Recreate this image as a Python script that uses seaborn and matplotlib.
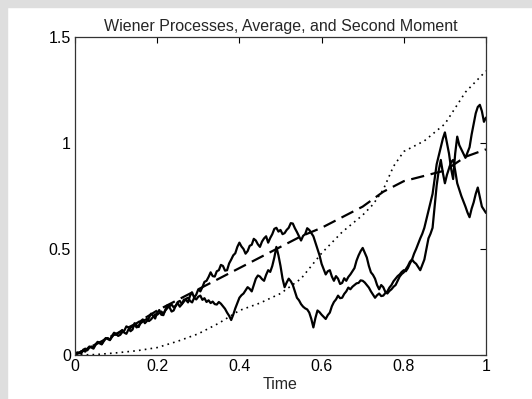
import numpy as np
import pandas as pd
import matplotlib
matplotlib.use("Agg")
import matplotlib.pyplot as plt
from matplotlib.patches import Rectangle
import seaborn as sns

# time grid for the two sample paths (step 0.005)
t_path = np.round(np.arange(0, 1.0001, 0.005), 3)

path_a = [0.000, 0.010, 0.012, 0.006, 0.025, 0.030, 0.022, 0.035, 0.040, 0.038,
          0.050, 0.062, 0.058, 0.052, 0.070, 0.080, 0.075, 0.070, 0.090, 0.105,
          0.100, 0.090, 0.095, 0.108, 0.115, 0.135, 0.130, 0.112, 0.120, 0.150,
          0.140, 0.132, 0.160, 0.168, 0.150, 0.160, 0.175, 0.195, 0.185, 0.172,
          0.200, 0.212, 0.190, 0.188, 0.215, 0.235, 0.225, 0.205, 0.210, 0.232,
          0.245, 0.228, 0.240, 0.262, 0.260, 0.248, 0.280, 0.295, 0.270, 0.285,
          0.310, 0.300, 0.320, 0.345, 0.350, 0.368, 0.390, 0.372, 0.370, 0.395,
          0.400, 0.425, 0.420, 0.398, 0.400, 0.432, 0.450, 0.470, 0.480, 0.510,
          0.530, 0.512, 0.500, 0.478, 0.490, 0.515, 0.520, 0.548, 0.540, 0.522,
          0.510, 0.535, 0.550, 0.560, 0.530, 0.552, 0.570, 0.595, 0.600, 0.582,
          0.590, 0.570, 0.575, 0.590, 0.600, 0.622, 0.620, 0.598, 0.580, 0.560,
          0.540, 0.562, 0.570, 0.598, 0.590, 0.575, 0.560, 0.530, 0.500, 0.470,
          0.430, 0.405, 0.380, 0.395, 0.400, 0.370, 0.350, 0.372, 0.360, 0.335,
          0.340, 0.362, 0.350, 0.368, 0.380, 0.395, 0.410, 0.445, 0.470, 0.490,
          0.505, 0.482, 0.460, 0.420, 0.390, 0.378, 0.360, 0.330, 0.310, 0.330,
          0.320, 0.298, 0.290, 0.302, 0.310, 0.322, 0.330, 0.350, 0.370, 0.382,
          0.390, 0.405, 0.420, 0.440, 0.450, 0.478, 0.500, 0.525, 0.550, 0.572,
          0.600, 0.640, 0.680, 0.720, 0.760, 0.830, 0.900, 0.940, 0.980, 1.020,
          1.050, 1.000, 0.950, 0.880, 0.830, 0.950, 1.030, 0.990, 0.970, 0.950,
          0.930, 0.955, 0.980, 1.040, 1.090, 1.140, 1.170, 1.180, 1.150, 1.100,
          1.120]

path_b = [0.000, 0.012, 0.008, 0.018, 0.020, 0.016, 0.030, 0.040, 0.035, 0.030,
          0.048, 0.058, 0.055, 0.050, 0.065, 0.078, 0.080, 0.072, 0.085, 0.098,
          0.095, 0.102, 0.110, 0.118, 0.105, 0.100, 0.120, 0.128, 0.135, 0.142,
          0.130, 0.138, 0.150, 0.158, 0.165, 0.170, 0.160, 0.168, 0.180, 0.192,
          0.190, 0.198, 0.205, 0.195, 0.210, 0.222, 0.230, 0.238, 0.225, 0.232,
          0.250, 0.255, 0.240, 0.252, 0.265, 0.270, 0.255, 0.248, 0.270, 0.262,
          0.275, 0.280, 0.260, 0.268, 0.250, 0.258, 0.245, 0.252, 0.240, 0.238,
          0.250, 0.242, 0.230, 0.218, 0.200, 0.185, 0.165, 0.190, 0.220, 0.245,
          0.270, 0.282, 0.290, 0.305, 0.320, 0.312, 0.300, 0.330, 0.360, 0.375,
          0.370, 0.358, 0.350, 0.378, 0.400, 0.392, 0.420, 0.460, 0.510, 0.470,
          0.420, 0.360, 0.320, 0.342, 0.360, 0.348, 0.330, 0.300, 0.270, 0.258,
          0.240, 0.228, 0.220, 0.215, 0.200, 0.170, 0.130, 0.175, 0.210, 0.202,
          0.190, 0.180, 0.170, 0.188, 0.200, 0.230, 0.250, 0.262, 0.280, 0.268,
          0.270, 0.288, 0.300, 0.318, 0.310, 0.322, 0.330, 0.338, 0.340, 0.352,
          0.350, 0.342, 0.330, 0.318, 0.300, 0.285, 0.270, 0.282, 0.290, 0.278,
          0.280, 0.292, 0.300, 0.318, 0.330, 0.348, 0.360, 0.372, 0.380, 0.392,
          0.400, 0.395, 0.410, 0.432, 0.450, 0.438, 0.430, 0.415, 0.400, 0.425,
          0.450, 0.500, 0.550, 0.572, 0.600, 0.700, 0.800, 0.870, 0.920, 0.860,
          0.810, 0.850, 0.880, 0.910, 0.920, 0.870, 0.810, 0.780, 0.750, 0.725,
          0.700, 0.672, 0.650, 0.690, 0.720, 0.760, 0.790, 0.745, 0.700, 0.685,
          0.670]

# average over paths (dashed)
t_avg = [0.0, 0.05, 0.10, 0.15, 0.20, 0.25, 0.30, 0.35, 0.40, 0.45, 0.50,
         0.55, 0.60, 0.65, 0.70, 0.75, 0.80, 0.85, 0.90, 0.95, 1.0]
avg = [0.0, 0.05, 0.10, 0.15, 0.21, 0.26, 0.31, 0.36, 0.41, 0.46, 0.51,
       0.56, 0.60, 0.65, 0.70, 0.77, 0.82, 0.845, 0.87, 0.935, 0.97]

# second moment (dotted)
t_mom = [0.0, 0.05, 0.10, 0.15, 0.20, 0.25, 0.30, 0.35, 0.40, 0.45, 0.50,
         0.55, 0.60, 0.65, 0.70, 0.725, 0.75, 0.775, 0.80, 0.85, 0.90, 0.95, 1.0]
moment = [0.0, 0.002, 0.01, 0.02, 0.035, 0.065, 0.10, 0.15, 0.21, 0.245, 0.29,
          0.36, 0.48, 0.58, 0.66, 0.71, 0.78, 0.89, 0.96, 1.01, 1.09, 1.24, 1.34]

sns.set_style("white")
plt.rcParams['font.family'] = ['Liberation Sans', 'DejaVu Sans']

fig = plt.figure(figsize=(5.32, 3.99), dpi=100)
fig.patch.set_facecolor('white')
# grey window border on top and left
fig.patches.append(Rectangle((0, 1 - 7 / 399), 1, 7 / 399, transform=fig.transFigure,
                             color='#dedede', zorder=0))
fig.patches.append(Rectangle((0, 0), 7 / 532, 1, transform=fig.transFigure,
                             color='#dedede', zorder=0))

ax = fig.add_axes([75 / 532, 44 / 399, 411 / 532, 318 / 399])

df_a = pd.DataFrame({'t': t_path, 'w': path_a})
df_b = pd.DataFrame({'t': t_path, 'w': path_b})
sns.lineplot(data=df_a, x='t', y='w', ax=ax, color='black', lw=1.6, estimator=None, sort=False)
sns.lineplot(data=df_b, x='t', y='w', ax=ax, color='black', lw=1.6, estimator=None, sort=False)
sns.lineplot(x=t_avg, y=avg, ax=ax, color='black', lw=1.6, dashes=False,
             linestyle=(0, (6, 3)))
sns.lineplot(x=t_mom, y=moment, ax=ax, color='black', lw=1.2,
             linestyle=(0, (1, 2.5)))

ax.set_xlim(0, 1)
ax.set_ylim(0, 1.5)
ax.set_xticks([0, 0.2, 0.4, 0.6, 0.8, 1])
ax.set_xticklabels(['0', '0.2', '0.4', '0.6', '0.8', '1'])
ax.set_yticks([0, 0.5, 1, 1.5])
ax.set_yticklabels(['0', '0.5', '1', '1.5'])
ax.tick_params(direction='in', length=4, width=0.8, top=True, right=True,
               labelsize=11.5, colors='black', pad=3)
for s in ax.spines.values():
    s.set_color('#333333')
    s.set_linewidth(0.9)

ax.set_xlabel('Time', fontsize=11.5, labelpad=2)
ax.set_ylabel('')
ax.set_title('Wiener Processes, Average, and Second Moment', fontsize=11.5, pad=4)

fig.savefig('out.png', dpi=100)
